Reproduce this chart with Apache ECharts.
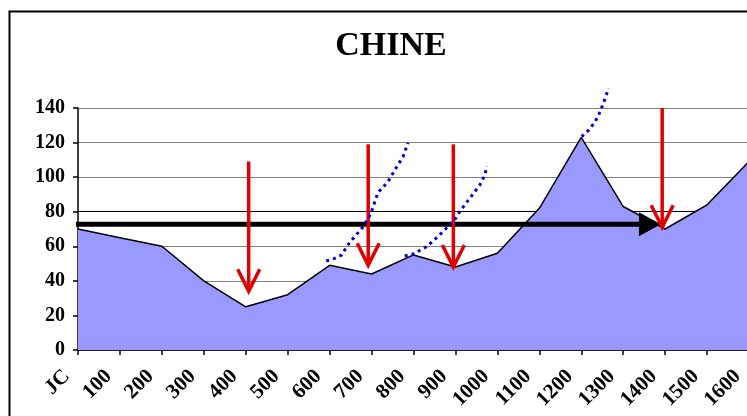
<!DOCTYPE html>
<html>
<head>
<meta charset="utf-8">
<script src="https://cdn.jsdelivr.net/npm/echarts@6/dist/echarts.min.js"></script>
<style>
  html, body { margin: 0; padding: 0; background: #fff; }
  #chart { width: 747px; height: 416px; }
</style>
</head>
<body>
<div id="chart"></div>
<script>
// Periods (years) along the horizontal axis
const categories = ['JC', '100', '200', '300', '400', '500', '600', '700', '800',
  '900', '1000', '1100', '1200', '1300', '1400', '1500', '1600'];
// Index values for China
const values = [70, 65, 60, 40, 25, 32, 49, 44, 55, 48, 56, 82, 123, 83, 70, 84, 109];
// Vertical axis ticks
const yTicks = [0, 20, 40, 60, 80, 100, 120, 140];

// Red downward arrows: [position (category index), top value, tip value]
const redArrows = [
  [4.07, 109, 34],
  [6.92, 119, 49],
  [8.95, 119, 48],
  [13.93, 140, 71]
];
// Black horizontal reference arrow: [start index, end index, level]
const levelArrow = [[-0.05, 13.9, 72.7]];
// Blue dotted trend segments: [position (category index), value]
const trendA = [[5.92, 51.5], [6.12, 53.0], [6.28, 54.9], [6.48, 62.3], [6.80, 71.3],
  [6.98, 78.7], [7.15, 91.0], [7.39, 97.3], [7.58, 105.1], [7.75, 111.8], [7.87, 119.9]];
const trendB = [[7.79, 54.4], [7.99, 55.5], [8.31, 59.7], [8.62, 66.5], [8.98, 75.2],
  [9.10, 80.0], [9.34, 87.7], [9.58, 95.4], [9.70, 101.2], [9.75, 106.4]];
const trendC = [[12.01, 123.5], [12.17, 127.0], [12.33, 132.0], [12.45, 137.8],
  [12.57, 145.6], [12.65, 151.4]];

const serif = '"Liberation Serif", "Times New Roman", serif';
const chart = echarts.init(document.getElementById('chart'), null, { renderer: 'canvas' });

const dotted = (data) => ({
  type: 'line',
  xAxisIndex: 1,
  data: data,
  showSymbol: false,
  symbol: 'none',
  clip: false,
  silent: true,
  z: 6,
  lineStyle: { color: '#0000dd', width: 3, type: [3, 4], cap: 'butt' }
});

chart.setOption({
  animation: false,
  backgroundColor: '#fff',
  title: {
    text: 'CHINE',
    left: 386,
    textAlign: 'center',
    top: 24,
    textStyle: { fontFamily: serif, fontWeight: 'bold', fontSize: 34, color: '#000' }
  },
  graphic: [{
    type: 'polyline',
    shape: { points: [[9.5, 430], [9.5, 11.5], [750, 11.5]] },
    style: { stroke: '#000', lineWidth: 2, fill: null },
    z: 100
  }],
  grid: { left: 78, right: -2, top: 108, bottom: 66, containLabel: false, outerBoundsMode: 'none' },
  xAxis: [{
    type: 'category',
    data: categories,
    boundaryGap: false,
    axisLine: { lineStyle: { color: '#000', width: 1.5 } },
    axisTick: { show: true, length: 5, lineStyle: { color: '#000', width: 1.5 } },
    axisLabel: {
      interval: 0, rotate: 45, margin: 12, hideOverlap: false,
      padding: [0, 16, 0, 0],
      fontFamily: serif, fontWeight: 'bold', fontSize: 21, color: '#000'
    },
    splitLine: { show: false }
  }, {
    type: 'value', min: 0, max: 16, show: false
  }],
  yAxis: {
    type: 'value',
    min: yTicks[0], max: yTicks[yTicks.length - 1], interval: 20,
    axisLine: { show: true, lineStyle: { color: '#000', width: 1.5 } },
    axisTick: { show: true, length: 5, lineStyle: { color: '#000', width: 1.5 } },
    axisLabel: {
      margin: 13, fontFamily: serif, fontWeight: 'bold', fontSize: 20, color: '#000'
    },
    splitLine: {
      show: true,
      lineStyle: {
        color: ['#808080', '#808080', '#808080', '#808080', '#000000', '#808080', '#808080', '#808080'],
        width: 1.2
      }
    }
  },
  series: [{
    type: 'line',
    data: values,
    symbol: 'none',
    z: 2,
    lineStyle: { color: '#000', width: 1.5 },
    areaStyle: { color: '#9999ff', opacity: 1 }
  }, {
    // thick black horizontal arrow
    type: 'custom',
    xAxisIndex: 1,
    data: levelArrow,
    clip: false,
    silent: true,
    z: 4,
    renderItem: (params, api) => {
      const a = api.coord([api.value(0), api.value(2)]);
      const b = api.coord([api.value(1), api.value(2)]);
      const head = 22, half = 12;
      return {
        type: 'group',
        children: [{
          type: 'line',
          shape: { x1: a[0], y1: a[1], x2: b[0] - head + 2, y2: b[1] },
          style: { stroke: '#000', lineWidth: 5 }
        }, {
          type: 'polygon',
          shape: { points: [[b[0], b[1]], [b[0] - head, b[1] - half], [b[0] - head, b[1] + half]] },
          style: { fill: '#000' }
        }]
      };
    }
  }, {
    // red downward arrows with open heads
    type: 'custom',
    xAxisIndex: 1,
    data: redArrows,
    clip: false,
    silent: true,
    z: 5,
    renderItem: (params, api) => {
      const top = api.coord([api.value(0), api.value(1)]);
      const tip = api.coord([api.value(0), api.value(2)]);
      const head = 22, half = 11;
      return {
        type: 'group',
        children: [{
          type: 'line',
          shape: { x1: top[0], y1: top[1], x2: tip[0], y2: tip[1] - 2 },
          style: { stroke: '#e00000', lineWidth: 3.5 }
        }, {
          type: 'polyline',
          shape: { points: [[tip[0] - half, tip[1] - head], [tip[0], tip[1]], [tip[0] + half, tip[1] - head]] },
          style: { stroke: '#e00000', lineWidth: 3.5, fill: null, lineJoin: 'miter' }
        }]
      };
    }
  },
  dotted(trendA), dotted(trendB), dotted(trendC)]
});
</script>
</body>
</html>
